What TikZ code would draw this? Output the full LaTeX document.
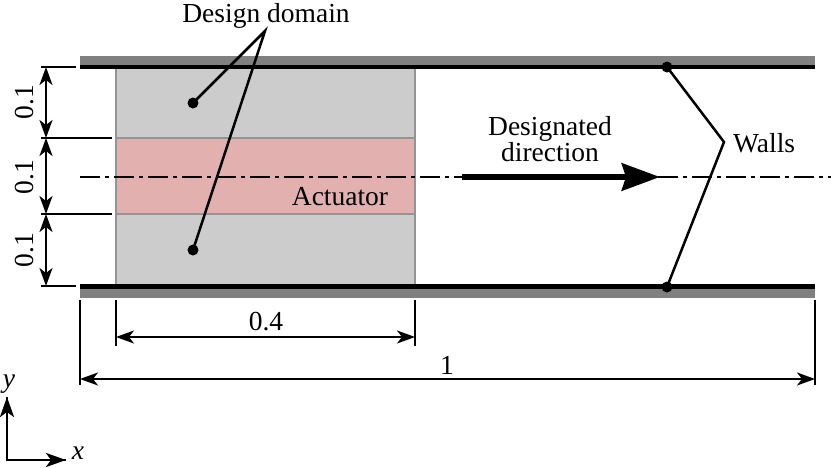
\documentclass[tikz,border=0pt]{standalone}
\usepackage{fontspec}
\setmainfont{Liberation Serif}
\usetikzlibrary{arrows.meta}
\definecolor{wallgray}{HTML}{808080}
\definecolor{ddgray}{HTML}{CCCCCC}
\definecolor{ddedge}{HTML}{949494}
\definecolor{actpink}{HTML}{E3B0B0}
\begin{document}
\begin{tikzpicture}[x=1pt,y=-1pt,
  lbl/.style={font=\fontsize{27.5}{30}\selectfont, inner sep=0pt},
  dimarrow/.style={line width=2.1pt, {Stealth[length=18pt,width=13pt,inset=5pt]}-{Stealth[length=18pt,width=13pt,inset=5pt]}},
  extline/.style={line width=2.1pt},
  leader/.style={line width=2.5pt},
  dotmark/.style={circle, fill=black, inner sep=0pt, minimum size=11pt},
  axisarrow/.style={line width=2.6pt, -{Stealth[length=20pt,width=14pt,inset=5pt]}},
]
\useasboundingbox (0,0) rectangle (831,467);
% design domain and actuator
\draw[fill=ddgray, draw=ddedge, line width=2.2pt] (116,68) rectangle (415,285);
\draw[fill=actpink, draw=ddedge, line width=2.2pt] (116,138) rectangle (415,214);
% walls
\fill[wallgray] (80,56) rectangle (815,65);
\fill[black] (80,65) rectangle (815,69);
\fill[black] (80,284) rectangle (815,289);
\fill[wallgray] (80,289) rectangle (815,298);
% centre line
\coordinate (cl0) at (80,177);
\coordinate (cl1) at (831,177);
\draw[line width=2.1pt, dash pattern=on 20pt off 5pt on 4pt off 5pt] (cl0) -- (cl1);
% designated direction arrow
\coordinate (dd0) at (462,177);
\coordinate (dd1) at (660,177);
\draw[line width=6.5pt, -{Stealth[length=38pt,width=27pt,inset=4pt]}] (dd0) -- (dd1);
\node[lbl, align=center] (desig) at (550,139) {Designated\\[-4pt]direction};
\node[lbl] (act) at (340,197) {Actuator};
% vertical dimensions
\coordinate (v0) at (46,67);
\coordinate (v1) at (46,138);
\coordinate (v2) at (46,214);
\coordinate (v3) at (46,286);
\coordinate (e0a) at (41,67);  \coordinate (e0b) at (76,67);
\coordinate (e1a) at (41,138); \coordinate (e1b) at (112,138);
\coordinate (e2a) at (41,214); \coordinate (e2b) at (112,214);
\coordinate (e3a) at (41,286); \coordinate (e3b) at (76,286);
\draw[extline] (e0a) -- (e0b);
\draw[extline] (e1a) -- (e1b);
\draw[extline] (e2a) -- (e2b);
\draw[extline] (e3a) -- (e3b);
\draw[dimarrow] (v0) -- (v1);
\draw[dimarrow] (v1) -- (v2);
\draw[dimarrow] (v2) -- (v3);
\node[lbl, rotate=90] (d1) at (25,102) {0.1};
\node[lbl, rotate=90] (d2) at (25,177) {0.1};
\node[lbl, rotate=90] (d3) at (25,250) {0.1};
% horizontal dimensions
\coordinate (h0a) at (116,300); \coordinate (h0b) at (116,346);
\coordinate (h1a) at (415,300); \coordinate (h1b) at (415,346);
\coordinate (h2a) at (80,300);  \coordinate (h2b) at (80,385);
\coordinate (h3a) at (815,300); \coordinate (h3b) at (815,385);
\draw[extline] (h0a) -- (h0b);
\draw[extline] (h1a) -- (h1b);
\draw[extline] (h2a) -- (h2b);
\draw[extline] (h3a) -- (h3b);
\coordinate (p0) at (116,337); \coordinate (p1) at (415,337);
\coordinate (q0) at (80,379);  \coordinate (q1) at (815,379);
\draw[dimarrow] (p0) -- (p1);
\draw[dimarrow] (q0) -- (q1);
\node[lbl] (l04) at (266,322) {0.4};
\node[lbl] (l1) at (447,365) {1};
% design domain leaders
\node[lbl] (ddlabel) at (266,15.5) {Design domain};
\coordinate (ddv) at (265,31);
\node[dotmark] (dd1dot) at (193,103) {};
\node[dotmark] (dd2dot) at (193,250) {};
\draw[leader] (dd1dot.center) -- (ddv) -- (dd2dot.center);
% walls leaders
\node[lbl, anchor=west] (walls) at (733,143) {Walls};
\coordinate (wv) at (724,142);
\node[dotmark] (w1) at (667,67) {};
\node[dotmark] (w2) at (667,287) {};
\draw[leader] (w1.center) -- (wv) -- (w2.center);
% axes
\coordinate (ax0) at (7,460);
\coordinate (axy) at (7,397);
\coordinate (axx) at (66,460);
\draw[line width=2.6pt] (axy) -- (ax0) -- (axx);
\draw[axisarrow] (7,425) -- (axy);
\draw[axisarrow] (40,460) -- (axx);
\node[lbl, font=\fontsize{27.5}{30}\selectfont\itshape] (ylab) at (9,384) {y};
\node[lbl, font=\fontsize{27.5}{30}\selectfont\itshape] (xlab) at (78,453) {x};
\end{tikzpicture}
\end{document}
